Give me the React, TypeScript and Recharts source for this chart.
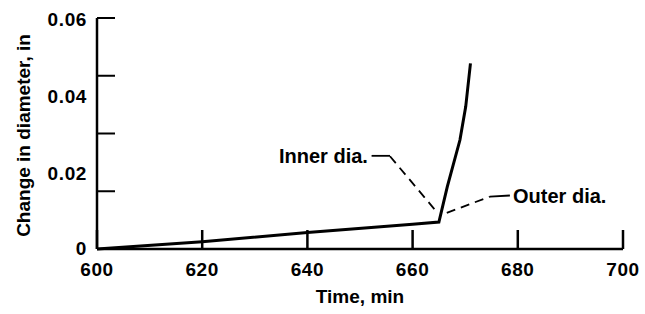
import { LineChart, Line, XAxis, YAxis, ReferenceLine, ReferenceDot, Label } from 'recharts'

// Time, min
const timeMin = [600, 620, 640, 660, 665, 666.6, 669, 670.1, 671]
// Change in diameter, in
const diaChange = [0, 0.0019, 0.0043, 0.0064, 0.007, 0.0162, 0.0283, 0.037, 0.0482]

const xTicks = [600, 620, 640, 660, 680, 700]
const yTickMarks = [0, 0.015, 0.03, 0.045, 0.06]
const yTickLabels = [0, 0.02, 0.04, 0.06]

// leader lines for the two callouts (data coords)
const innerSolid = [{ x: 652.2, y: 0.0242 }, { x: 655.7, y: 0.0242 }]
const innerDashed = [{ x: 655.7, y: 0.0241 }, { x: 664.3, y: 0.0101 }]
const outerDashed = [{ x: 666.5, y: 0.0094 }, { x: 674.7, y: 0.0136 }]
const outerSolid = [{ x: 674.7, y: 0.0136 }, { x: 678.5, y: 0.0139 }]

const data = timeMin.map((t, i) => ({ t, d: diaChange[i] }))

const FONT = '"Liberation Sans", Arial, sans-serif'
const near = (a: number, b: number) => Math.abs(a - b) < 1e-9

function YTick({ x, y, payload }: any) {
  const v = payload.value
  const mark = yTickMarks.some((m) => near(m, v))
  const lab = yTickLabels.some((m) => near(m, v))
  return (
    <g>
      {mark && <line x1={x + 10} x2={x + 28} y1={y} y2={y} stroke="#000" strokeWidth={2} />}
      {lab && (
        <text
          x={x}
          y={v === 0 ? y - 1 : y + 1}
          dy="0.36em"
          textAnchor="end"
          fontFamily={FONT}
          fontWeight="bold"
          fontSize={19}
          letterSpacing={0.6}
          fill="#000"
        >
          {v === 0 ? '0' : v.toFixed(2)}
        </text>
      )}
    </g>
  )
}

export default function App() {
  const yTicks = [...yTickMarks, ...yTickLabels]
    .filter((v, i, a) => a.findIndex((w) => near(w, v)) === i)
    .sort((a, b) => a - b)

  return (
    <div style={{ position: 'absolute', left: 0, top: 0, background: '#fff' }}>
      <LineChart width={645} height={314} data={data} margin={{ top: 18, right: 22, bottom: 0, left: 0 }}>
        <XAxis
          dataKey="t"
          type="number"
          domain={[600, 700]}
          ticks={xTicks}
          interval={0}
          height={65}
          tickSize={-19}
          tickMargin={33}
          stroke="#000"
          strokeWidth={2.5}
          tick={{ fill: '#000', fontFamily: FONT, fontWeight: 'bold', fontSize: 19, letterSpacing: 0.6 }}
        >
          <Label
            content={({ viewBox }: any) => (
              <text
                x={viewBox.x + viewBox.width / 2}
                y={296}
                dy="0.36em"
                textAnchor="middle"
                fontFamily={FONT}
                fontWeight="bold"
                fontSize={19}
                fill="#000"
              >
                Time, min
              </text>
            )}
          />
        </XAxis>
        <YAxis
          type="number"
          domain={[0, 0.06]}
          ticks={yTicks}
          interval={0}
          width={97}
          tickLine={false}
          tickSize={0}
          tickMargin={10}
          stroke="#000"
          strokeWidth={2.5}
          tick={<YTick />}
        >
          <Label
            content={({ viewBox }: any) => {
              const cx = viewBox.x + 23
              const cy = viewBox.y + viewBox.height / 2 + 2
              return (
                <text
                  x={cx}
                  y={cy}
                  dy="0.36em"
                  transform={`rotate(-90, ${cx}, ${cy})`}
                  textAnchor="middle"
                  fontFamily={FONT}
                  fontWeight="bold"
                  fontSize={19}
                  fill="#000"
                >
                  Change in diameter, in
                </text>
              )
            }}
          />
        </YAxis>
        <ReferenceLine segment={innerSolid} stroke="#000" strokeWidth={1.8} />
        <ReferenceLine segment={innerDashed} stroke="#000" strokeWidth={1.8} strokeDasharray="9 6" />
        <ReferenceLine segment={outerDashed} stroke="#000" strokeWidth={1.8} strokeDasharray="9 6" />
        <ReferenceLine segment={outerSolid} stroke="#000" strokeWidth={1.8} />
        <ReferenceDot
          x={651.5}
          y={0.0242}
          r={0}
          stroke="none"
          fill="none"
          label={{ value: 'Inner dia.', position: 'left', offset: 0, fill: '#000', fontFamily: FONT, fontWeight: 'bold', fontSize: 20 }}
        />
        <ReferenceDot
          x={679.1}
          y={0.0138}
          r={0}
          stroke="none"
          fill="none"
          label={{ value: 'Outer dia.', position: 'right', offset: 0, fill: '#000', fontFamily: FONT, fontWeight: 'bold', fontSize: 20 }}
        />
        <Line
          type="linear"
          dataKey="d"
          stroke="#000"
          strokeWidth={3}
          dot={false}
          isAnimationActive={false}
        />
      </LineChart>
    </div>
  )
}
